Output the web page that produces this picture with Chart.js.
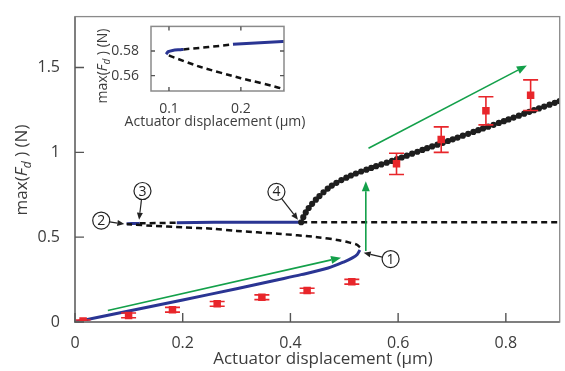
<!DOCTYPE html>
<html>
<head>
<meta charset="utf-8">
<script src="https://cdn.jsdelivr.net/npm/chart.js@4.4.0/dist/chart.umd.min.js"></script>
<style>
    html, body { margin: 0; padding: 0; background: #fff; }
    #wrap { position: relative; width: 565px; height: 371px; }
    #main { position: absolute; left: 0; top: 0; }
    #inset { position: absolute; left: 90px; top: 14px; }
</style>
</head>
<body>
<div id="wrap">
    <canvas id="main" width="565" height="371"></canvas>
    <canvas id="inset" width="225" height="116"></canvas>
</div>
<script>
// tick labels
const xTicks = [0, 0.2, 0.4, 0.6, 0.8];
const yTicks = [0, 0.5, 1, 1.5];
const insetXTicks = [0.1, 0.2];
const insetYTicks = [0.56, 0.58];

// lower stable branch (blue)
const lowerStableX = [0, 0.1, 0.2, 0.3, 0.377, 0.42, 0.47, 0.5, 0.515, 0.524, 0.529];
const lowerStableY = [0, 0.065, 0.13, 0.196, 0.249, 0.279, 0.318, 0.355, 0.378, 0.398, 0.425];

// unstable middle branch (dashed)
const middleX = [0.529, 0.524, 0.51, 0.49, 0.45, 0.377, 0.3, 0.257, 0.2, 0.143, 0.105, 0.096];
const middleY = [0.44, 0.455, 0.468, 0.482, 0.5, 0.52, 0.537, 0.5494, 0.5579, 0.5672, 0.5752, 0.5774];

// upper branch pieces
const upperAX = [0.096, 0.099, 0.105, 0.116, 0.12];
const upperAY = [0.5774, 0.5795, 0.5805, 0.5811, 0.5813];
const upperBX = [0.12, 0.155, 0.189];
const upperBY = [0.5813, 0.5832, 0.5854];
const upperCX = [0.189, 0.258, 0.42];
const upperCY = [0.5854, 0.5878, 0.588];
const upperDX = [0.42, 0.9];
const upperDY = [0.588, 0.588];

// jump branch (black dots)
const jumpX = [0.42, 0.425, 0.433, 0.45, 0.475, 0.51, 0.55, 0.6, 0.65, 0.7, 0.75, 0.8, 0.85, 0.9];
const jumpY = [0.588, 0.625, 0.668, 0.73, 0.8, 0.86, 0.908, 0.962, 1.02, 1.075, 1.132, 1.188, 1.246, 1.302];

// measurements (red squares)
const measX = [0.015, 0.0995, 0.181, 0.264, 0.347, 0.431, 0.514, 0.597, 0.68, 0.763, 0.846];
const measY = [0.006, 0.039, 0.072, 0.107, 0.146, 0.185, 0.237, 0.932, 1.075, 1.245, 1.337];
const measErr = [0.006, 0.014, 0.014, 0.014, 0.014, 0.014, 0.014, 0.063, 0.075, 0.083, 0.09];

// green arrows
const greenFromX = [0.061, 0.54, 0.545];
const greenFromY = [0.068, 0.418, 1.024];
const greenToX = [0.494, 0.54, 0.839];
const greenToY = [0.379, 0.83, 1.512];

// numbered callouts
const calloutText = ["1", "2", "3", "4"];
const calloutX = [0.586, 0.0487, 0.1253, 0.374];
const calloutY = [0.371, 0.598, 0.772, 0.767];
const calloutTipX = [0.536, 0.0916, 0.119, 0.414];
const calloutTipY = [0.408, 0.577, 0.603, 0.603];

const FAM = "'Open Sans', sans-serif";
const TXT = "#3c3c3c";
const BLUE = "#2a3593";
const RED = "#e8262b";
const GREEN = "#13a04a";

const pts = (xs, ys) => xs.map((x, i) => ({ x: x, y: ys[i] }));

function drawArrow(ctx, x1, y1, x2, y2, color, lw, head, half) {
    const a = Math.atan2(y2 - y1, x2 - x1);
    const bx = x2 - head * Math.cos(a), by = y2 - head * Math.sin(a);
    ctx.save();
    ctx.strokeStyle = color;
    ctx.fillStyle = color;
    ctx.lineWidth = lw;
    ctx.beginPath();
    ctx.moveTo(x1, y1);
    ctx.lineTo(bx, by);
    ctx.stroke();
    ctx.beginPath();
    ctx.moveTo(x2, y2);
    ctx.lineTo(bx + half * Math.sin(a), by - half * Math.cos(a));
    ctx.lineTo(bx - half * Math.sin(a), by + half * Math.cos(a));
    ctx.closePath();
    ctx.fill();
    ctx.restore();
}

// "max(F_d) (N)" centred on 0,0
function drawFdLabel(ctx, size) {
    const parts = [
        { t: "max(", f: size + "px " + FAM, dy: 0 },
        { t: "F", f: "italic " + size + "px " + FAM, dy: 0 },
        { t: "d", f: "italic " + Math.round(size * 0.72) + "px " + FAM, dy: size * 0.3 },
        { t: " ) (N)", f: size + "px " + FAM, dy: 0 }
    ];
    let w = 0;
    parts.forEach(p => { ctx.font = p.f; p.w = ctx.measureText(p.t).width; w += p.w; });
    let x = -w / 2;
    ctx.fillStyle = TXT;
    ctx.textBaseline = "middle";
    ctx.textAlign = "left";
    parts.forEach(p => {
        ctx.font = p.f;
        ctx.fillText(p.t, x, p.dy);
        x += p.w;
    });
}

function frame(ctx, area, xs, ys, xt, yt, tickLen, allSides) {
    ctx.save();
    ctx.strokeStyle = "#8a8a8a";
    ctx.lineWidth = allSides ? 1.5 : 1.3;
    ctx.strokeRect(area.left, area.top, area.right - area.left, area.bottom - area.top);
    if (!allSides) {
        ctx.lineWidth = 2;
        ctx.strokeStyle = "#7f7f7f";
        ctx.beginPath();
        ctx.moveTo(area.left, area.top);
        ctx.lineTo(area.left, area.bottom);
        ctx.lineTo(area.right, area.bottom);
        ctx.stroke();
    }
    ctx.strokeStyle = "#555";
    ctx.lineWidth = 1.4;
    ctx.beginPath();
    xt.forEach(v => {
        const px = xs.getPixelForValue(v);
        ctx.moveTo(px, area.bottom);
        ctx.lineTo(px, area.bottom - tickLen);
        if (allSides) {
            ctx.moveTo(px, area.top);
            ctx.lineTo(px, area.top + tickLen);
        }
    });
    yt.forEach(v => {
        const py = ys.getPixelForValue(v);
        ctx.moveTo(area.left, py);
        ctx.lineTo(area.left + tickLen, py);
        if (allSides) {
            ctx.moveTo(area.right, py);
            ctx.lineTo(area.right - tickLen, py);
        }
    });
    ctx.stroke();
    ctx.restore();
}

const mainDecor = {
    id: "mainDecor",
    afterDatasetsDraw(chart) {
        const ctx = chart.ctx, xs = chart.scales.x, ys = chart.scales.y;
        // error bars
        ctx.save();
        ctx.strokeStyle = RED;
        ctx.lineWidth = 1.6;
        measX.forEach((v, i) => {
            const px = xs.getPixelForValue(v);
            const top = ys.getPixelForValue(measY[i] + measErr[i]);
            const bot = ys.getPixelForValue(measY[i] - measErr[i]);
            ctx.beginPath();
            ctx.moveTo(px, top); ctx.lineTo(px, bot);
            ctx.moveTo(px - 7.5, top); ctx.lineTo(px + 7.5, top);
            ctx.moveTo(px - 7.5, bot); ctx.lineTo(px + 7.5, bot);
            ctx.stroke();
        });
        ctx.restore();
        // green arrows
        greenFromX.forEach((v, i) => {
            drawArrow(ctx, xs.getPixelForValue(v), ys.getPixelForValue(greenFromY[i]),
                xs.getPixelForValue(greenToX[i]), ys.getPixelForValue(greenToY[i]), GREEN, 1.6, 10, 4);
        });
        // callouts
        const r = 8.5;
        calloutText.forEach((t, i) => {
            const cx = xs.getPixelForValue(calloutX[i]), cy = ys.getPixelForValue(calloutY[i]);
            const tx = xs.getPixelForValue(calloutTipX[i]), ty = ys.getPixelForValue(calloutTipY[i]);
            const a = Math.atan2(ty - cy, tx - cx);
            drawArrow(ctx, cx + r * Math.cos(a), cy + r * Math.sin(a), tx, ty, "#222", 1.2, 7, 3);
            ctx.save();
            ctx.fillStyle = "#fff";
            ctx.strokeStyle = "#222";
            ctx.lineWidth = 1.2;
            ctx.beginPath();
            ctx.arc(cx, cy, r, 0, Math.PI * 2);
            ctx.fill();
            ctx.stroke();
            ctx.fillStyle = "#222";
            ctx.font = "14px " + FAM;
            ctx.textAlign = "center";
            ctx.textBaseline = "middle";
            ctx.fillText(t, cx, cy + 0.5);
            ctx.restore();
        });
    },
    afterDraw(chart) {
        const ctx = chart.ctx;
        frame(ctx, chart.chartArea, chart.scales.x, chart.scales.y, xTicks, yTicks, 9, false);
        ctx.save();
        ctx.fillStyle = TXT;
        ctx.font = "17px " + FAM;
        ctx.textAlign = "center";
        ctx.textBaseline = "middle";
        ctx.fillText("Actuator displacement (\u03bcm)", 323, 359);
        ctx.translate(22, 170);
        ctx.rotate(-Math.PI / 2);
        drawFdLabel(ctx, 17);
        ctx.restore();
    }
};

const insetDecor = {
    id: "insetDecor",
    afterDraw(chart) {
        const ctx = chart.ctx;
        frame(ctx, chart.chartArea, chart.scales.x, chart.scales.y, insetXTicks, insetYTicks, 4, true);
        ctx.save();
        ctx.fillStyle = TXT;
        ctx.font = "14px " + FAM;
        ctx.textAlign = "center";
        ctx.textBaseline = "middle";
        ctx.fillText("Actuator displacement (\u03bcm)", 125, 108);
        ctx.translate(13, 52);
        ctx.rotate(-Math.PI / 2);
        drawFdLabel(ctx, 14);
        ctx.restore();
    }
};

function lineSet(xs, ys, color, width, dash, tension) {
    return {
        data: pts(xs, ys),
        showLine: true,
        borderColor: color,
        borderWidth: width,
        borderDash: dash,
        pointRadius: 0,
        tension: tension
    };
}

new Chart(document.getElementById("main"), {
    type: "scatter",
    data: {
        datasets: [
            {
                data: pts(measX, measY),
                pointStyle: "rect",
                pointRadius: 5.3,
                backgroundColor: RED,
                borderColor: RED,
                borderWidth: 0
            },
            Object.assign(lineSet(jumpX, jumpY, "#1e1e1e", 6.2, [0, 5.4], 0.3), { borderCapStyle: "round" }),
            lineSet(lowerStableX, lowerStableY, BLUE, 3, [], 0.3),
            lineSet(middleX, middleY, "#111", 2.5, [6, 4], 0.3),
            lineSet(upperAX, upperAY, BLUE, 3, [], 0.3),
            lineSet(upperBX, upperBY, "#111", 2.5, [6, 4], 0),
            lineSet(upperCX, upperCY, BLUE, 3, [], 0),
            lineSet(upperDX, upperDY, "#111", 2.5, [6, 4], 0)
        ]
    },
    options: {
        responsive: false,
        animation: false,
        devicePixelRatio: 1,
        layout: { padding: { top: 13, right: 1, left: 0, bottom: 0 } },
        plugins: { legend: { display: false }, tooltip: { enabled: false } },
        scales: {
            x: {
                type: "linear", min: 0, max: 0.9,
                grid: { display: false }, border: { display: false },
                afterBuildTicks: s => { s.ticks = xTicks.map(v => ({ value: v })); },
                afterFit: s => { s.height = 49; },
                ticks: { padding: 4, color: TXT, font: { family: "Open Sans", size: 16 }, autoSkip: false, maxRotation: 0, callback: v => String(v) }
            },
            y: {
                type: "linear", min: 0, max: 1.8,
                grid: { display: false }, border: { display: false },
                afterBuildTicks: s => { s.ticks = yTicks.map(v => ({ value: v })); },
                afterFit: s => { s.width = 75; },
                ticks: { padding: 7, color: TXT, font: { family: "Open Sans", size: 16 }, autoSkip: false, callback: v => String(v) }
            }
        }
    },
    plugins: [mainDecor]
});

new Chart(document.getElementById("inset"), {
    type: "scatter",
    data: {
        datasets: [
            lineSet(upperAX, upperAY, BLUE, 3, [], 0.3),
            lineSet(upperBX, upperBY, "#111", 2.5, [6, 4], 0),
            lineSet(upperCX, upperCY, BLUE, 3, [], 0),
            lineSet(middleX, middleY, "#111", 2.5, [6, 4], 0.2)
        ]
    },
    options: {
        responsive: false,
        animation: false,
        devicePixelRatio: 1,
        layout: { padding: { top: 11, right: 31, left: 0, bottom: 0 } },
        plugins: { legend: { display: false }, tooltip: { enabled: false } },
        scales: {
            x: {
                type: "linear", min: 0.075, max: 0.26,
                grid: { display: false }, border: { display: false },
                afterBuildTicks: s => { s.ticks = insetXTicks.map(v => ({ value: v })); },
                afterFit: s => { s.height = 39; },
                ticks: { padding: 2, color: TXT, font: { family: "Open Sans", size: 14 }, autoSkip: false, maxRotation: 0, callback: v => String(v) }
            },
            y: {
                type: "linear", min: 0.5475, max: 0.6,
                grid: { display: false }, border: { display: false },
                afterBuildTicks: s => { s.ticks = insetYTicks.map(v => ({ value: v })); },
                afterFit: s => { s.width = 61; },
                ticks: { padding: 4, color: TXT, font: { family: "Open Sans", size: 14 }, autoSkip: false, callback: v => String(v) }
            }
        }
    },
    plugins: [insetDecor]
});
</script>
</body>
</html>
